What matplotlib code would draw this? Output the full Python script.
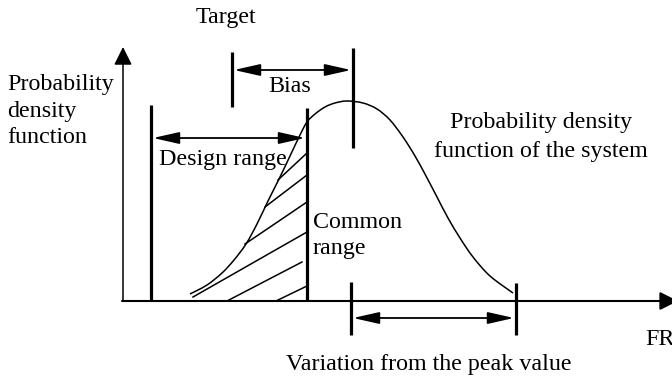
import matplotlib.pyplot as plt
from matplotlib.path import Path
from matplotlib.patches import PathPatch

plt.rcParams['font.family'] = ['Liberation Serif', 'DejaVu Serif']

# Diagram coordinates are read in pixels from the reference (origin top-left)
origin = (123, 301)
y_axis_top = 47
x_axis_end = 678

# density curve, points
curve_x = [190, 207, 222, 234, 246, 257, 268, 280, 290, 300, 307, 315, 325, 335,
           347, 363, 377, 390, 403, 415, 426, 437, 448, 460, 473, 490, 513]
curve_y = [294, 285, 273, 260, 244, 224, 201, 177, 156, 135, 122, 114, 107, 103,
           101, 103, 109, 120, 137, 156, 176, 197, 218, 238, 257, 276, 293]

# hatch strokes in the common range: (x0, y0, x1, y1)
hatch = [(278, 180, 307, 153), (265, 207, 307, 175), (245, 244, 307, 202),
         (193, 297, 307, 232), (227, 301, 302, 262), (276, 301, 307, 286)]

# vertical marker bars: (x, y_top, y_bottom)
bars = {
    'design_low': (151, 105, 301),
    'design_high': (307, 108, 301),
    'target': (232, 52, 107),
    'peak': (353, 48, 148),
    'var_low': (351, 282, 335),
    'var_high': (516, 283, 335),
}

# double arrows: (x0, x1, y)
arrows = {
    'bias': (234, 351, 70),
    'design': (153, 305, 138),
    'variation': (353, 514, 318),
}

# labels: (text, x, baseline y, horizontal alignment)
labels = [
    ('Target', 226, 23, 'center'),
    ('Bias', 290, 92, 'center'),
    ('Probability', 7, 90, 'left'),
    ('density', 7, 117, 'left'),
    ('function', 7, 143, 'left'),
    ('Design range', 159, 165, 'left'),
    ('Common', 313, 228, 'left'),
    ('range', 313, 254, 'left'),
    ('Probability density', 541, 128, 'center'),
    ('function of the system', 541, 157, 'center'),
    ('FR', 645, 345, 'left'),
    ('Variation from the peak value', 429, 370, 'center'),
]


def smooth_path(xs, ys):
    # Catmull-Rom through the read points, drawn as cubic Bezier segments
    pts = list(zip(xs, ys))
    verts = [pts[0]]
    codes = [Path.MOVETO]
    for i in range(len(pts) - 1):
        p0 = pts[i - 1] if i > 0 else pts[i]
        p1, p2 = pts[i], pts[i + 1]
        p3 = pts[i + 2] if i + 2 < len(pts) else pts[i + 1]
        c1 = (p1[0] + (p2[0] - p0[0]) / 6, p1[1] + (p2[1] - p0[1]) / 6)
        c2 = (p2[0] - (p3[0] - p1[0]) / 6, p2[1] - (p3[1] - p1[1]) / 6)
        verts += [c1, c2, p2]
        codes += [Path.CURVE4] * 3
    return Path(verts, codes)


fig = plt.figure(figsize=(6.72, 3.8), dpi=100)
ax = fig.add_axes([0, 0, 1, 1])
ax.set_xlim(0, 672)
ax.set_ylim(380, 0)
ax.axis('off')

# axes with arrowheads
ax.annotate('', xy=(origin[0], y_axis_top), xytext=origin, annotation_clip=False,
            arrowprops=dict(arrowstyle='-|>,head_length=1.1,head_width=0.55',
                            lw=1.1, color='black', shrinkA=0, shrinkB=0,
                            mutation_scale=10))
ax.annotate('', xy=(x_axis_end, origin[1]), xytext=(origin[0] - 1, origin[1]),
            annotation_clip=False,
            arrowprops=dict(arrowstyle='-|>,head_length=1.1,head_width=0.55',
                            lw=1.5, color='black', shrinkA=0, shrinkB=0,
                            mutation_scale=10))

ax.add_patch(PathPatch(smooth_path(curve_x, curve_y), facecolor='none',
                       edgecolor='black', lw=1.1))

for x0, y0, x1, y1 in hatch:
    ax.plot([x0, x1], [y0, y1], color='black', lw=1.1)

for x, yt, yb in bars.values():
    ax.plot([x, x], [yt, yb], color='black', lw=2.3, solid_capstyle='butt')

for x0, x1, y in arrows.values():
    ax.annotate('', xy=(x1, y), xytext=(x0, y),
                arrowprops=dict(arrowstyle='<|-|>,head_length=1.6,head_width=0.36',
                                lw=1.3, color='black', shrinkA=0, shrinkB=0,
                                mutation_scale=10))

for text, x, y, ha in labels:
    ax.text(x, y, text, fontsize=17.3, ha=ha, va='baseline')

fig.savefig('out.png', dpi=100)
